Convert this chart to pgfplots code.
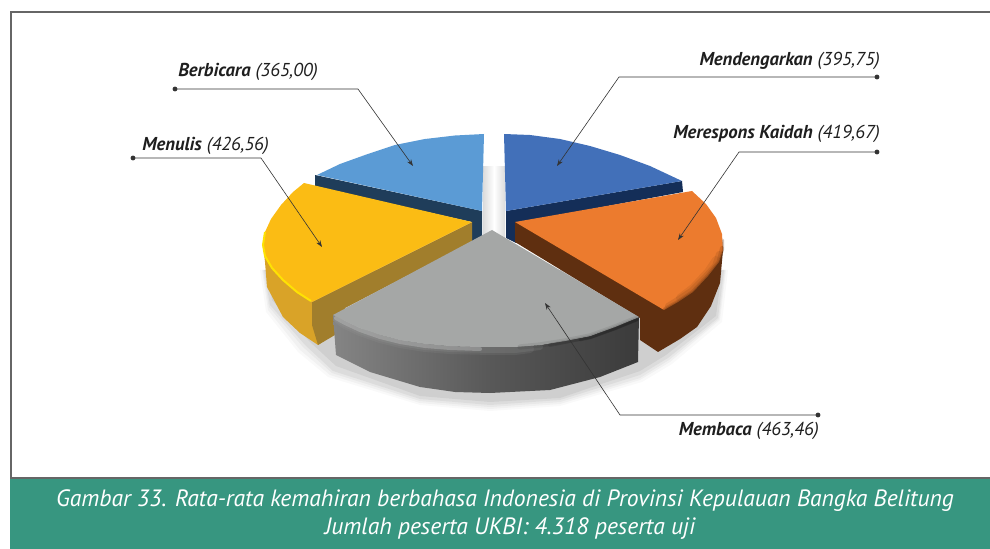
\documentclass[border=0pt]{standalone}
\usepackage{pgfplots}
\usepackage{fontspec}
\setmainfont{PT Sans}
\pgfplotsset{compat=1.18}
\usetikzlibrary{arrows.meta}
\definecolor{band}{HTML}{379680}
\definecolor{frameg}{HTML}{666666}
\definecolor{leader}{HTML}{333333}
\definecolor{txt}{HTML}{1E1E1E}
\definecolor{lblue}{HTML}{5B9BD5}
\definecolor{lblueS}{HTML}{1F3D5A}
\definecolor{dblue}{HTML}{4270B9}
\definecolor{dblueS}{HTML}{142E58}
\definecolor{orangeT}{HTML}{EC7B2E}
\definecolor{orangeS}{HTML}{5F2F10}
\definecolor{yellowT}{HTML}{FBBC14}
\definecolor{yellowS}{HTML}{D9A328}
\definecolor{yellowI}{HTML}{A17E2C}
\definecolor{greyT}{HTML}{A5A7A6}
\newcommand{\lab}[2]{\fontsize{14pt}{15pt}\selectfont\itshape\color{txt}\textbf{#1} #2}
\begin{document}
\begin{tikzpicture}
\useasboundingbox (0,0) rectangle (742.5pt,411.75pt);
\begin{axis}[
  scale only axis, width=742.5pt, height=411.75pt,
  xmin=0, xmax=990, ymin=0, ymax=549, y dir=reverse, hide axis,
]
% caption band and frame
\addplot[fill=band, draw=none] coordinates {(10,479) (990,479) (990,549) (10,549)};
\addplot[frameg, line width=0.8pt] coordinates {(990,12) (11,12) (11,478) (990,478)};
% soft shadow
\addplot[fill=black, fill opacity=0.025, draw=none] coordinates {(260,270) (266,312) (298,352) (328,377) (420,405) (490,411) (560,406) (642,382) (672,364) (722,322) (728,270)};
\addplot[fill=black, fill opacity=0.03, draw=none] coordinates {(262,270) (268,310) (300,350) (330,375) (420,403) (490,409) (560,404) (640,380) (670,362) (720,320) (726,270)};
\addplot[fill=black, fill opacity=0.04, draw=none] coordinates {(263,270) (269,307) (303,347) (332,373) (420,401) (490,407) (560,402) (640,378) (669,360) (719,319) (725,270)};
\addplot[fill=black, fill opacity=0.05, draw=none] coordinates {(264,270) (270,305) (305,345) (333,371) (420,399) (490,405) (560,400) (640,375) (668,358) (718,318) (724,270)};
\addplot[fill=black, fill opacity=0.06, draw=none] coordinates {(266,270) (272,300) (310,342) (336,366) (420,396) (490,402) (560,398) (640,371) (666,355) (716,316) (722,270)};
\addplot[left color=black!14, right color=black!14, middle color=white, draw=none] coordinates {(483,167) (505,167) (505,240) (483,240)};
% Mendengarkan
\addplot[fill=dblueS, draw=none] coordinates {(506,211) (682,181) (683,192) (516,223) (516,243) (506,238)};
\addplot[fill=dblue, draw=none] coordinates {(504,134) (530,135) (560,139) (590,146) (620,155) (650,166) (682,181) (506,211)};
% Berbicara
\addplot[fill=lblueS, draw=none] coordinates {(315,175) (482,211) (482,238) (472,245) (472,222) (315,187)};
\addplot[fill=lblue, draw=none] coordinates {(484,134) (455,135.5) (425,139) (395,145) (365,155) (340,164) (317,175) (482,211)};
% Merespons Kaidah
\addplot[fill=orangeS, draw=none] coordinates {(515,222) (515,242) (640,318) (640,340) (658,352) (680,339) (697,327) (711,306) (720,283) (723,250)};
\addplot[fill=orangeT, draw=none] coordinates {(515,222) (692,191) (706,204) (716,218) (722,234) (723,250) (719,262) (708,276) (693,292) (678,302) (664,310)};
\addplot[orangeS, line width=6pt, line cap=round, opacity=0.1] coordinates {(716,260) (708,272) (693,288) (680,298)};
\addplot[orangeS, line width=4.5pt, line cap=round, opacity=0.14] coordinates {(719,254) (715,266) (706,276) (691,291) (676,301) (668,306)};
\addplot[orangeS, line width=3pt, line cap=round, opacity=0.2] coordinates {(722,248) (718.5,262) (707.5,276) (692.5,292) (677.5,302) (665,309)};
\addplot[orangeS, line width=1.5pt, line cap=round, opacity=0.3] coordinates {(723,240) (723,250) (719,262) (708,276) (693,292) (678,302) (664,310)};
% Menulis
\addplot[fill=yellowS, draw=none] coordinates {(263,245) (265,262) (267,287) (283,317) (300,333) (318,345) (340,330) (340,300) (312,302) (283,280) (265,256)};
\addplot[fill=yellowI, draw=none] coordinates {(312,302) (472,222) (472,242) (345,308) (340,332) (318,345) (312,325)};
\addplot[fill=yellowT, draw=none] coordinates {(304,183) (293,192) (281,205) (271,219) (265,232) (263,245) (265,256) (272,268) (283,280) (297,292) (312,302) (472,222)};
\addplot[yellow!85!orange, line width=1.5pt] coordinates {(265,232) (263,245) (265,256) (272,268) (283,280) (297,292) (311,301)};
% Membaca
\addplot[left color=black!48, right color=black!77, middle color=black!65, draw=none] coordinates {(333,315) (336,355) (370,372) (420,387) (455,392) (490,393) (550,390) (600,377) (638,362) (639,317) (590,336) (540,345) (490,347) (450,346) (400,340) (360,328)};
% rounded top of the rim, fading downward
\addplot[greyT, line width=6pt, line cap=round, opacity=0.12] coordinates {(338,320) (345,325) (360,332) (380,339) (400,344) (425,348) (450,350) (490,351) (515,351) (530,349)};
\addplot[greyT, line width=4.5pt, line cap=round, opacity=0.16] coordinates {(337,319) (345,324) (360,331) (380,338) (400,343) (425,347) (450,349) (490,350) (515,350) (540,347)};
\addplot[greyT!70!white, line width=3pt, line cap=round, opacity=0.4] coordinates {(336,318) (345,323) (360,330) (380,337) (400,342) (425,346) (450,348) (480,349)};
\addplot[fill=greyT, draw=none] coordinates {(492,230) (333,315) (345,321) (360,328) (380,335) (400,340) (425,344) (450,346) (490,347) (515,347) (540,345) (565,341) (590,336) (615,327) (639,317)};
\addplot[black, line width=4pt, line cap=round, opacity=0.07] coordinates {(520,347) (540,345) (565,341) (590,336) (615,327) (637,318)};
\addplot[black, line width=3pt, line cap=round, opacity=0.1] coordinates {(550,345) (565,342) (590,337) (615,328) (637,319)};
\addplot[black, line width=2pt, line cap=round, opacity=0.14] coordinates {(580,340) (590,338) (615,329) (637,320)};
% leaders
\addplot[leader, line width=0.45pt, -{Stealth[length=5pt,width=3.5pt]}] coordinates {(175,89) (358,89) (413,166)};
\addplot[leader, line width=0.45pt, -{Stealth[length=5pt,width=3.5pt]}] coordinates {(133,158) (261,158) (322,247)};
\addplot[leader, line width=0.45pt, -{Stealth[length=5pt,width=3.5pt]}] coordinates {(877,77) (619,77) (557,166)};
\addplot[leader, line width=0.45pt, -{Stealth[length=5pt,width=3.5pt]}] coordinates {(877,152) (739,152) (678,240)};
\addplot[leader, line width=0.45pt, -{Stealth[length=5pt,width=3.5pt]}] coordinates {(818,415) (620,415) (545,303)};
\addplot[only marks, mark=*, mark size=1.6pt, mark options={fill=leader, draw=leader}] coordinates {(175,89) (133,158) (877,77) (877,152) (818,415)};
% labels
\node[anchor=base west, inner sep=0pt] at (axis cs:178,77) {\lab{Berbicara}{(365,00)}};
\node[anchor=base west, inner sep=0pt] at (axis cs:142,151) {\lab{Menulis}{(426,56)}};
\node[anchor=base east, inner sep=0pt] at (axis cs:880,66) {\lab{Mendengarkan}{(395,75)}};
\node[anchor=base east, inner sep=0pt] at (axis cs:880,139) {\lab{Merespons Kaidah}{(419,67)}};
\node[anchor=base east, inner sep=0pt] at (axis cs:819,435) {\lab{Membaca}{(463,46)}};
% caption
\node[anchor=base, inner sep=0pt, text=white] at (axis cs:505,506) {\fontsize{17.7pt}{19pt}\selectfont\itshape Gambar 33. Rata-rata kemahiran berbahasa Indonesia di Provinsi Kepulauan Bangka Belitung};
\node[anchor=base, inner sep=0pt, text=white] at (axis cs:510,534) {\fontsize{17.7pt}{19pt}\selectfont\itshape Jumlah peserta UKBI: 4.318 peserta uji};
\end{axis}
\end{tikzpicture}
\end{document}
